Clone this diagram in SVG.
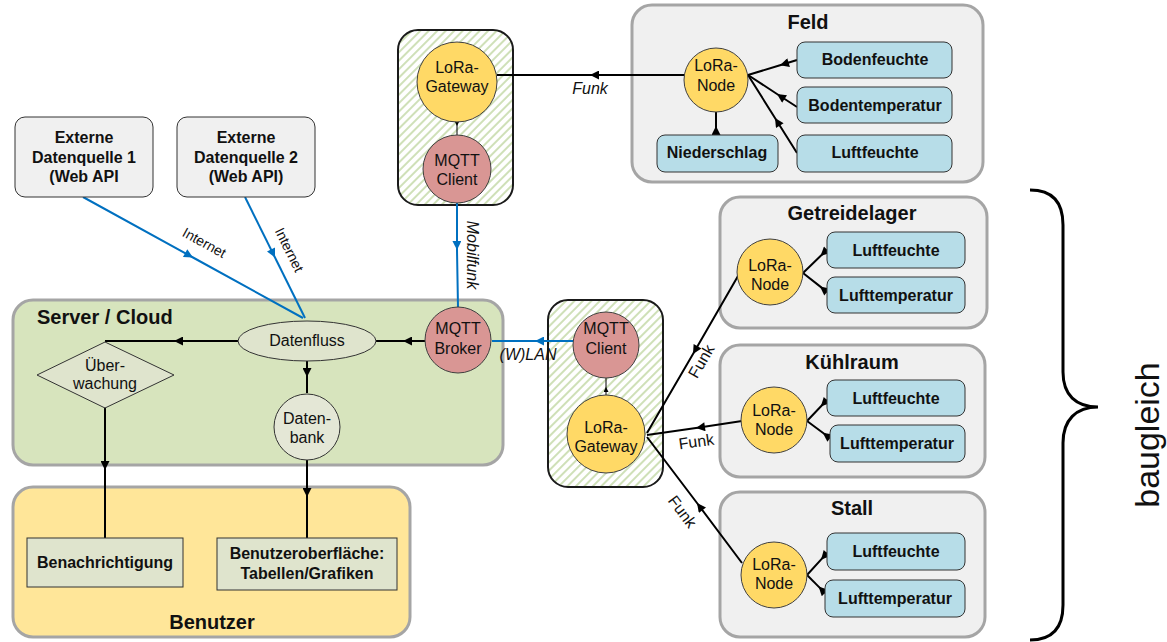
<svg xmlns="http://www.w3.org/2000/svg" width="1167" height="642" viewBox="0 0 1167 642">
<defs>
<style>
text{font-family:"Liberation Sans",Arial,sans-serif;fill:#111;text-anchor:middle}
.t{font-size:20px;font-weight:bold}
.b{font-size:16px;font-weight:bold}
.r{font-size:16px}
.i{font-size:16px;font-style:italic}
.grp{fill:#f0f0f0;stroke:#a5a5a5;stroke-width:3}
.gw{fill:url(#hatch);stroke:#1a1a1a;stroke-width:2}
.sen{fill:#b7dde8;stroke:#333;stroke-width:1}
.lora{fill:#ffd966;stroke:#404040;stroke-width:1}
.mqtt{fill:#d99694;stroke:#404040;stroke-width:1}
.inner{fill:#dfe4cd;stroke:#333;stroke-width:1}
.ext{fill:#f0f0f0;stroke:#333;stroke-width:1}
.c{fill:none;stroke:#000;stroke-width:2}
.cb{fill:none;stroke:#0070c0;stroke-width:2}
.cs{fill:none;stroke:#000;stroke-width:1}
</style>
<pattern id="hatch" patternUnits="userSpaceOnUse" width="6" height="6" patternTransform="rotate(45)">
<rect width="6" height="6" fill="#fff"/>
<rect width="2" height="6" fill="#cfe0b8"/>
</pattern>
<marker id="ah" viewBox="0 0 10 10" refX="10" refY="5" markerWidth="11" markerHeight="9" markerUnits="userSpaceOnUse" orient="auto"><path d="M0,0 L10,5 L0,10 z" fill="#000"/></marker>
<marker id="ahb" viewBox="0 0 10 10" refX="10" refY="5" markerWidth="11" markerHeight="9" markerUnits="userSpaceOnUse" orient="auto"><path d="M0,0 L10,5 L0,10 z" fill="#0070c0"/></marker>
<marker id="ahs" viewBox="0 0 10 10" refX="10" refY="5" markerWidth="6" markerHeight="5" markerUnits="userSpaceOnUse" orient="auto"><path d="M0,0 L10,5 L0,10 z" fill="#000"/></marker>
</defs>

<g id="containers">
<rect id="feld" class="grp" x="632" y="5" width="351" height="177" rx="20"/>
<rect id="getreidelager" class="grp" x="720" y="197" width="267" height="131" rx="20"/>
<rect id="kuehlraum" class="grp" x="720" y="345" width="265" height="132" rx="20"/>
<rect id="stall" class="grp" x="720" y="492" width="265" height="145" rx="20"/>
<rect id="server" x="13" y="300" width="490" height="165" rx="20" fill="#d7e4bd" stroke="#a5a5a5" stroke-width="3"/>
<rect id="benutzer" x="13" y="487" width="397" height="150" rx="20" fill="#ffe699" stroke="#a5a5a5" stroke-width="3"/>
<rect id="gateway-box-1" class="gw" x="398" y="30" width="115" height="175" rx="20"/>
<rect id="gateway-box-2" class="gw" x="548" y="300" width="115" height="187" rx="20"/>
<text class="t" x="808" y="29">Feld</text>
<text class="t" x="852" y="220">Getreidelager</text>
<text class="t" x="852" y="369">Kühlraum</text>
<text class="t" x="852" y="515">Stall</text>
<text class="t" x="37" y="324" style="text-anchor:start">Server / Cloud</text>
<text class="t" x="212" y="629">Benutzer</text>
</g>

<g id="connectors">
<path class="c" d="M684,75 L590,75 L497,75" marker-mid="url(#ah)"/>
<path class="cs" d="M457,121 L457,126 L457,135" marker-mid="url(#ahs)"/>
<path class="cs" d="M606,395 L606,387 L606,378" marker-mid="url(#ahs)"/>
<path class="cb" d="M457,203 L457,250 L458,307" marker-mid="url(#ahb)"/>
<path class="cb" d="M573,341 L535,341 L492,341" marker-mid="url(#ahb)"/>
<path class="cb" d="M83,197 L193,257.5 L303,318" marker-mid="url(#ahb)"/>
<path class="cb" d="M245,197 L275,257.5 L305,318" marker-mid="url(#ahb)"/>
<path class="c" d="M425,341 L403,341 L376,341" marker-mid="url(#ah)"/>
<path class="c" d="M238,341 L174,341 L105,341" marker-mid="url(#ah)"/>
<path class="c" d="M105,407 L105,470 L105,538" marker-mid="url(#ah)"/>
<path class="c" d="M307,361 L307,377 L307,393" marker-mid="url(#ah)"/>
<path class="c" d="M307,460 L307,497 L307,538" marker-mid="url(#ah)"/>
<path class="c" d="M738,276 L693,354 L647,433" marker-mid="url(#ah)"/>
<path class="c" d="M742,421 L696,428 L647,435" marker-mid="url(#ah)"/>
<path class="c" d="M742,563 L697,503 L647,437" marker-mid="url(#ah)"/>
<path class="c" d="M797,60 L780,65.3 L748,75" marker-mid="url(#ah)"/>
<path class="c" d="M797,107 L777,94 L748,75" marker-mid="url(#ah)"/>
<path class="c" d="M797,153 L775,118 L748,75" marker-mid="url(#ah)"/>
<path class="c" d="M716,135 L716,126 L716,112" marker-mid="url(#ah)"/>
<path class="c" d="M827,250 L820.5,256 L803,273" marker-mid="url(#ah)"/>
<path class="c" d="M827,292 L820,286.4 L803,273" marker-mid="url(#ah)"/>
<path class="c" d="M827,400 L820.8,406.5 L807,421" marker-mid="url(#ah)"/>
<path class="c" d="M830,438 L822.8,432.7 L807,421" marker-mid="url(#ah)"/>
<path class="c" d="M827,553 L821,559.7 L807,575" marker-mid="url(#ah)"/>
<path class="c" d="M825,593 L818.6,586.6 L807,575" marker-mid="url(#ah)"/>
<text class="i" x="590" y="94">Funk</text>
<text class="i" transform="translate(467,255) rotate(90)">Mobilfunk</text>
<text class="i" x="528" y="360">(W)LAN</text>
<text class="r" font-size="14" transform="translate(202,247) rotate(29)" style="font-size:14px">Internet</text>
<text class="r" transform="translate(285,252) rotate(63.6)" style="font-size:14px">Internet</text>
<text class="r" transform="translate(706,364) rotate(-60)">Funk</text>
<text class="r" transform="translate(697,447) rotate(-8)">Funk</text>
<text class="r" transform="translate(678,515) rotate(53)">Funk</text>
</g>

<g id="ext1"><rect class="ext" x="15" y="117" width="138" height="80" rx="10"/>
<text class="b" x="84" y="143">Externe</text><text class="b" x="84" y="163">Datenquelle 1</text><text class="b" x="84" y="182">(Web API</text></g>
<g id="ext2"><rect class="ext" x="177" y="117" width="138" height="80" rx="10"/>
<text class="b" x="246" y="143">Externe</text><text class="b" x="246" y="163">Datenquelle 2</text><text class="b" x="246" y="182">(Web API)</text></g>

<g id="lora-gateway-1"><circle class="lora" cx="457" cy="82" r="40"/><text class="r" x="457" y="73">LoRa-</text><text class="r" x="457" y="92">Gateway</text></g>
<g id="mqtt-client-1"><circle class="mqtt" cx="457" cy="169" r="34"/><text class="r" x="457" y="166">MQTT</text><text class="r" x="457" y="185">Client</text></g>
<g id="mqtt-client-2"><circle class="mqtt" cx="606" cy="345" r="33"/><text class="r" x="606" y="334">MQTT</text><text class="r" x="606" y="354">Client</text></g>
<g id="lora-gateway-2"><circle class="lora" cx="606" cy="434" r="39"/><text class="r" x="606" y="433">LoRa-</text><text class="r" x="606" y="452">Gateway</text></g>
<g id="mqtt-broker"><circle class="mqtt" cx="458" cy="340" r="33"/><text class="r" x="458" y="334">MQTT</text><text class="r" x="458" y="354">Broker</text></g>
<g id="datenfluss"><ellipse class="inner" cx="307" cy="341" rx="69" ry="20"/><text class="r" x="307" y="346">Datenfluss</text></g>
<g id="ueberwachung"><path class="inner" d="M105,342 L174,375 L105,408 L37,375 Z"/><text class="r" x="105" y="371">Über-</text><text class="r" x="105" y="389">wachung</text></g>
<g id="datenbank"><circle cx="307" cy="427" r="33" fill="#e4e7d6" stroke="#333" stroke-width="1"/><text class="r" x="307" y="424">Daten-</text><text class="r" x="307" y="443">bank</text></g>
<g id="benachrichtigung"><rect class="inner" x="27" y="538" width="156" height="49"/><text class="b" x="105" y="568">Benachrichtigung</text></g>
<g id="benutzeroberflaeche"><rect class="inner" x="217" y="538" width="180" height="52"/><text class="b" x="307" y="559">Benutzeroberfläche:</text><text class="b" x="307" y="579">Tabellen/Grafiken</text></g>

<g id="feld-node"><circle class="lora" cx="716" cy="80" r="32"/><text class="r" x="716" y="71">LoRa-</text><text class="r" x="716" y="91">Node</text></g>
<g id="feld-bodenfeuchte"><rect class="sen" x="797" y="42" width="155" height="36" rx="8"/><text class="b" x="875" y="65">Bodenfeuchte</text></g>
<g id="feld-bodentemperatur"><rect class="sen" x="797" y="87" width="155" height="36" rx="8"/><text class="b" x="875" y="111">Bodentemperatur</text></g>
<g id="feld-luftfeuchte"><rect class="sen" x="797" y="135" width="155" height="37" rx="8"/><text class="b" x="875" y="158">Luftfeuchte</text></g>
<g id="feld-niederschlag"><rect class="sen" x="657" y="135" width="121" height="37" rx="8"/><text class="b" x="717" y="158">Niederschlag</text></g>

<g id="getreidelager-node"><circle class="lora" cx="770" cy="272" r="33"/><text class="r" x="770" y="271">LoRa-</text><text class="r" x="770" y="290">Node</text></g>
<g id="getreidelager-luftfeuchte"><rect class="sen" x="827" y="232" width="138" height="36" rx="8"/><text class="b" x="896" y="256">Luftfeuchte</text></g>
<g id="getreidelager-lufttemperatur"><rect class="sen" x="827" y="277" width="138" height="36" rx="8"/><text class="b" x="896" y="301">Lufttemperatur</text></g>

<g id="kuehlraum-node"><circle class="lora" cx="774" cy="420" r="33"/><text class="r" x="774" y="416">LoRa-</text><text class="r" x="774" y="435">Node</text></g>
<g id="kuehlraum-luftfeuchte"><rect class="sen" x="827" y="380" width="138" height="36" rx="8"/><text class="b" x="896" y="404">Luftfeuchte</text></g>
<g id="kuehlraum-lufttemperatur"><rect class="sen" x="830" y="425" width="135" height="37" rx="8"/><text class="b" x="897" y="449">Lufttemperatur</text></g>

<g id="stall-node"><circle class="lora" cx="774" cy="575" r="33"/><text class="r" x="774" y="570">LoRa-</text><text class="r" x="774" y="589">Node</text></g>
<g id="stall-luftfeuchte"><rect class="sen" x="827" y="533" width="138" height="37" rx="8"/><text class="b" x="896" y="557">Luftfeuchte</text></g>
<g id="stall-lufttemperatur"><rect class="sen" x="825" y="580" width="140" height="37" rx="8"/><text class="b" x="895" y="604">Lufttemperatur</text></g>

<g id="baugleich">
<path d="M1030,190 C1052,190 1063,202 1063,225 L1063,372 C1063,395 1076,407 1098,407 C1076,407 1063,420 1063,443 L1063,605 C1063,628 1052,640 1030,640" fill="none" stroke="#000" stroke-width="3"/>
<text transform="translate(1159,435) rotate(-90)" style="font-size:34px">baugleich</text>
</g>
</svg>
